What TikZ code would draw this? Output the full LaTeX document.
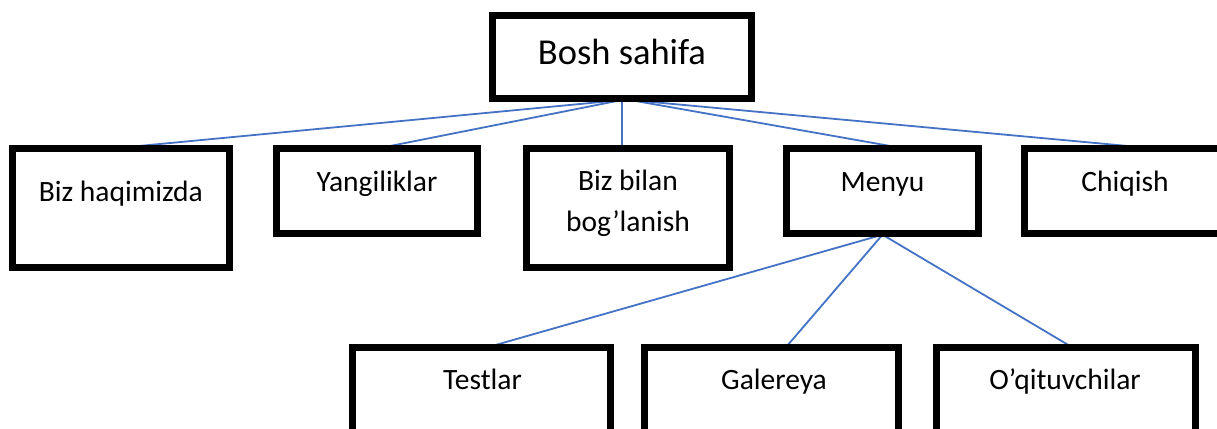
\documentclass[tikz,border=0pt]{standalone}
\usepackage{fontspec}
\setmainfont{Carlito}
\begin{document}
\begin{tikzpicture}[x=1pt,y=-1pt,
  box/.style={draw=black,line width=4.7pt,fill=white,rectangle,inner sep=0pt},
  conn/.style={draw=lineblue,line width=1.8pt},
  big/.style={font=\fontsize{36.5}{44}\selectfont,anchor=base,inner sep=0pt},
  lbl/.style={font=\fontsize{29.5}{36}\selectfont,anchor=base,inner sep=0pt}]
\definecolor{lineblue}{HTML}{4472C4}
\useasboundingbox (0,0) rectangle (1217,428);
\clip (0,0) rectangle (1217,428);
% boxes
\node[box,minimum width=257.3pt,minimum height=81.3pt] (top) at (622,57) {};
\node[box,minimum width=215.3pt,minimum height=116.3pt] (bh) at (121,208) {};
\node[box,minimum width=199.3pt,minimum height=82.6pt] (yang) at (377,191.3) {};
\node[box,minimum width=201.3pt,minimum height=115.9pt] (bilan) at (628,208) {};
\node[box,minimum width=190.3pt,minimum height=82.3pt] (menyu) at (882.5,191.2) {};
\node[box,minimum width=200.3pt,minimum height=82.5pt] (chiq) at (1125.5,191) {};
\node[box,minimum width=256.3pt,minimum height=87.3pt] (test) at (481.5,392) {};
\node[box,minimum width=252.3pt,minimum height=87.3pt] (gal) at (771.5,392) {};
\node[box,minimum width=257.3pt,minimum height=87.3pt] (oqit) at (1066,392) {};
% connectors
\draw[conn] (top.south) -- ([xshift=2pt]bh.north);
\draw[conn] (top.south) -- ([xshift=4.7pt]yang.north);
\draw[conn] (top.south) -- ([xshift=-6pt]bilan.north);
\draw[conn] ([xshift=8pt]top.south) -- ([xshift=17.5pt]menyu.north);
\draw[conn] ([xshift=8pt]top.south) -- ([xshift=17.5pt]chiq.north);
\draw[conn] (menyu.south) -- ([xshift=10.5pt]test.north);
\draw[conn] (menyu.south) -- ([xshift=15.5pt]gal.north);
\draw[conn] (menyu.south) -- ([xshift=4pt]oqit.north);
% redraw box borders over line ends
\foreach \n in {top,bh,yang,bilan,menyu,chiq,test,gal,oqit}{
  \draw[black,line width=4.7pt] (\n.south west) rectangle (\n.north east);
}
% labels
\node[big] (tTop) at (622,64) {Bosh sahifa};
\node[lbl] (tBh) at (120.8,201.7) {Biz haqimizda};
\node[lbl] (tYang) at (377,191) {Yangiliklar};
\node[lbl] (tBilanA) at (628,190) {Biz bilan};
\node[lbl] (tBilanB) at (628,231.7) {bog’lanish};
\node[lbl] (tMenyu) at (882.5,191) {Menyu};
\node[lbl] (tChiq) at (1125,191) {Chiqish};
\node[lbl] (tTest) at (482.5,389.3) {Testlar};
\node[lbl] (tGal) at (774,389.3) {Galereya};
\node[lbl] (tOqit) at (1065,389.3) {O’qituvchilar};
\end{tikzpicture}
\end{document}
